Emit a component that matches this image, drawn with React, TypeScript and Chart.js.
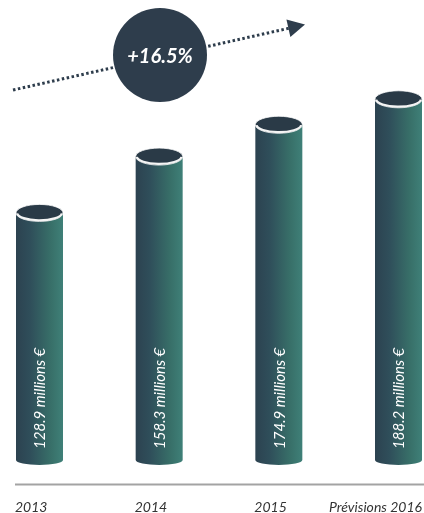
import { useEffect, useRef } from "react";
import { Chart, registerables } from "chart.js";

Chart.register(...registerables);

const categories = ["2013", "2014", "2015", "Prévisions 2016"];
const revenue = [128.9, 158.3, 174.9, 188.2];
const valueLabels = ["128.9 millions €", "158.3 millions €", "174.9 millions €", "188.2 millions €"];
const growthLabel = "+16.5%";

const NAVY = "#2e3d4c";

const cylinderPlugin = {
  id: "cylinders",
  afterDatasetsDraw(chart: any) {
    const ctx: CanvasRenderingContext2D = chart.ctx;
    const meta = chart.getDatasetMeta(0);
    const n = meta.data.length;

    // baseline
    ctx.save();
    ctx.strokeStyle = "#a3a3a3";
    ctx.lineWidth = 2;
    ctx.beginPath();
    ctx.moveTo(15, 484.5);
    ctx.lineTo(424, 484.5);
    ctx.stroke();
    ctx.restore();

    meta.data.forEach((el: any, i: number) => {
      const { x, y, base, width } = el.getProps(["x", "y", "base", "width"], true);
      const l = x - width / 2;
      const r = x + width / 2;
      const rx = width / 2;
      const ryTop = 8.5;
      const ryBot = 5;

      const g = ctx.createLinearGradient(l, 0, r, 0);
      g.addColorStop(0, "#2c4250");
      g.addColorStop(0.3, "#2f4e5a");
      g.addColorStop(0.75, "#387069");
      g.addColorStop(1, "#3f8078");

      ctx.save();
      ctx.beginPath();
      ctx.moveTo(l, y);
      ctx.lineTo(l, base);
      ctx.ellipse(x, base, rx, ryBot, 0, Math.PI, 0, true);
      ctx.lineTo(r, y);
      ctx.closePath();
      ctx.fillStyle = g;
      ctx.fill();

      // top cap
      ctx.beginPath();
      ctx.ellipse(x, y, rx, ryTop, 0, 0, Math.PI * 2);
      ctx.fillStyle = "#2a3a47";
      ctx.fill();
      ctx.strokeStyle = "rgba(255,255,255,0.75)";
      ctx.lineWidth = 1;
      ctx.stroke();
      ctx.beginPath();
      ctx.ellipse(x, y, rx - 1.2, ryTop - 1.2, 0, 0.05, Math.PI - 0.05);
      ctx.strokeStyle = "#f4f4f4";
      ctx.lineWidth = 2.2;
      ctx.stroke();

      // vertical value label
      ctx.translate(x, base - 11);
      ctx.rotate(-Math.PI / 2);
      ctx.fillStyle = "#ffffff";
      ctx.font = "italic 15px Lato, 'Open Sans', sans-serif";
      ctx.textAlign = "left";
      ctx.textBaseline = "middle";
      ctx.fillText(valueLabels[i], 0, 1);
      ctx.restore();

      // category label
      ctx.save();
      ctx.fillStyle = "#333333";
      ctx.font = "italic 14px Lato, 'Open Sans', sans-serif";
      ctx.textBaseline = "middle";
      if (i < n - 1) {
        ctx.textAlign = "left";
        ctx.fillText(categories[i], l - 1, 507);
      } else {
        ctx.textAlign = "right";
        ctx.fillText(categories[i], r, 507);
      }
      ctx.restore();
    });

    // growth arrow
    ctx.save();
    const x0 = 13, y0 = 90, x1 = 290, y1 = 28;
    ctx.strokeStyle = NAVY;
    ctx.lineWidth = 3;
    ctx.setLineDash([2.5, 2.5]);
    ctx.beginPath();
    ctx.moveTo(x0, y0);
    ctx.lineTo(x1, y1);
    ctx.stroke();
    ctx.setLineDash([]);
    const ang = Math.atan2(y1 - y0, x1 - x0);
    const tipX = 305, tipY = 24.5;
    const bx = tipX - 17 * Math.cos(ang);
    const by = tipY - 17 * Math.sin(ang);
    const px = -Math.sin(ang) * 9;
    const py = Math.cos(ang) * 9;
    ctx.fillStyle = NAVY;
    ctx.beginPath();
    ctx.moveTo(tipX, tipY);
    ctx.lineTo(bx + px, by + py);
    ctx.lineTo(bx - px, by - py);
    ctx.closePath();
    ctx.fill();

    // circle badge
    ctx.beginPath();
    ctx.arc(160, 55, 47, 0, Math.PI * 2);
    ctx.fillStyle = NAVY;
    ctx.fill();
    ctx.fillStyle = "#ffffff";
    ctx.font = "italic bold 20px Lato, 'Open Sans', sans-serif";
    ctx.textAlign = "center";
    ctx.textBaseline = "middle";
    ctx.fillText(growthLabel, 160, 57);
    ctx.restore();
  },
};

export default function App() {
  const canvasRef = useRef<HTMLCanvasElement | null>(null);

  useEffect(() => {
    if (!canvasRef.current) return;
    const chart = new Chart(canvasRef.current, {
      type: "bar",
      data: {
        labels: categories,
        datasets: [
          {
            data: revenue,
            backgroundColor: "rgba(0,0,0,0)",
            borderWidth: 0,
            barThickness: 47,
          },
        ],
      },
      options: {
        responsive: true,
        maintainAspectRatio: false,
        animation: false,
        layout: { padding: { left: 39.5, right: 25.5, top: 0, bottom: 53 } },
        plugins: {
          legend: { display: false },
          tooltip: { enabled: false },
        },
        scales: {
          x: { display: false, offset: false },
          y: { display: false, min: 0, max: 240 },
        },
      },
      plugins: [cylinderPlugin],
    });
    return () => chart.destroy();
  }, []);

  return (
    <div style={{ position: "absolute", left: 0, top: 0, width: 424, height: 513, background: "#ffffff" }}>
      <canvas ref={canvasRef} />
    </div>
  );
}
